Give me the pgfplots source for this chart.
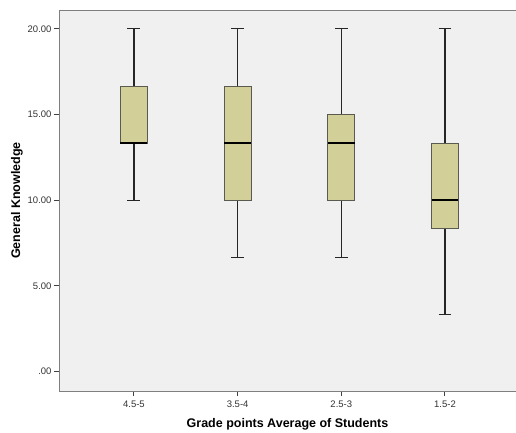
\documentclass[border=0pt]{standalone}
\usepackage{pgfplots}
\pgfplotsset{compat=1.18}
\usepgfplotslibrary{statistics}
\usepackage{fontspec}
\setmainfont{Liberation Sans}
\definecolor{bg}{HTML}{F0F0F0}
\definecolor{boxfill}{HTML}{D3CF98}
\definecolor{boxedge}{HTML}{5A5A50}
\definecolor{axgray}{HTML}{7F7F7F}
\begin{document}
\begin{tikzpicture}[x=1pt,y=1pt]
\begin{axis}[
  name=ax,
  scale only axis,
  width=457pt, height=381pt,
  xmin=0.277, xmax=4.685,
  ymin=-1.13, ymax=21.1,
  xtick={1,2,3,4},
  xticklabels={4.5-5,3.5-4,2.5-3,1.5-2},
  ytick={0,5,10,15,20},
  yticklabels={.00,5.00,10.00,15.00,20.00},
  xtick pos=bottom, ytick pos=left,
  tick align=outside,
  major tick length=5pt,
  tick style={black!75, line width=1pt},
  axis line style={draw=none},
  axis background/.style={fill=bg},
  ticklabel style={font=\fontsize{9.5}{11}\selectfont, text=black!80},
  yticklabel style={xshift=1pt},
  xticklabel style={yshift=-1pt},
  xlabel={\textbf{Grade points Average of Students}},
  ylabel={\textbf{General Knowledge}},
  label style={font=\fontsize{12.5}{14}\selectfont},
  xlabel style={yshift=-4pt},
  ylabel style={yshift=-2pt},
  clip=false,
  boxplot/draw direction=y,
  boxplot/box extend=0.26,
  boxplot/whisker extend=0.125,
  boxplot/every box/.style={draw=boxedge, fill=boxfill, line width=0.9pt},
  boxplot/every whisker/.style={black!85, line width=1.2pt},
  boxplot/every median/.style={black, line width=1.7pt},
]
\addplot+[mark=none, boxplot prepared={draw position=1, lower whisker=10, lower quartile=13.333, median=13.333, upper quartile=16.667, upper whisker=20}] coordinates {};
\addplot+[mark=none, boxplot prepared={draw position=2, lower whisker=6.667, lower quartile=10, median=13.333, upper quartile=16.667, upper whisker=20}] coordinates {};
\addplot+[mark=none, boxplot prepared={draw position=3, lower whisker=6.667, lower quartile=10, median=13.333, upper quartile=15, upper whisker=20}] coordinates {};
\addplot+[mark=none, boxplot prepared={draw position=4, lower whisker=3.333, lower quartile=8.333, median=10, upper quartile=13.333, upper whisker=20}] coordinates {};
\draw[axgray, line width=0.9pt] (rel axis cs:1,1) -- (rel axis cs:0,1) -- (rel axis cs:0,0) -- (rel axis cs:1,0);
\end{axis}
\pgfresetboundingbox
\path[use as bounding box] ([shift={(-59pt,-42pt)}]ax.south west) rectangle ([shift={(0pt,10pt)}]ax.north east);
\end{tikzpicture}
\end{document}
